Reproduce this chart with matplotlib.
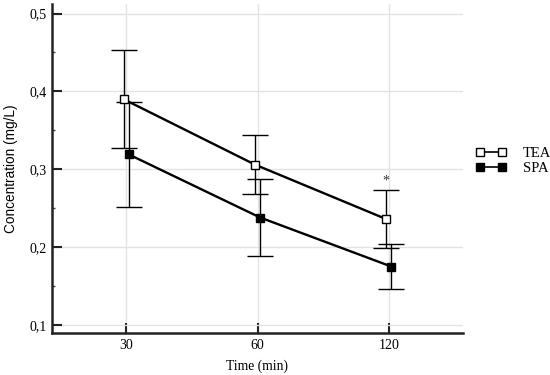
import matplotlib
matplotlib.use("Agg")
import matplotlib.pyplot as plt
import numpy as np
from matplotlib.ticker import MultipleLocator
from matplotlib.lines import Line2D

times = ["30", "60", "120"]
tea_mean = [0.390, 0.306, 0.236]
tea_err = [0.063, 0.038, 0.037]
spa_mean = [0.319, 0.238, 0.175]
spa_err = [0.067, 0.049, 0.029]
yticks = [0.1, 0.2, 0.3, 0.4, 0.5]
ytick_labels = ["0,1", "0,2", "0,3", "0,4", "0,5"]
series_names = ["TEA", "SPA"]

serif = "Liberation Serif"

fig = plt.figure(figsize=(5.5, 3.75), dpi=100)
ax = fig.add_axes([52/550, 1-333/375, (463-52)/550, (333-4)/375])

x = np.arange(len(times))
off = 0.02

common = dict(color="black", lw=1.7, marker="s", markersize=5.5,
              markeredgecolor="black", markeredgewidth=1.0, ecolor="black",
              elinewidth=1.0, capsize=9.5, capthick=1.0, zorder=3)
ax.errorbar(x - off, tea_mean, yerr=tea_err, markerfacecolor="white", **common)
ax.errorbar(x + off, spa_mean, yerr=spa_err, markerfacecolor="black", **common)

ax.text(x[2] - off, tea_mean[2] + tea_err[2] + 0.003, "*", ha="center",
        va="bottom", fontsize=10, family=serif, color="#333333")

ax.set_xlim(-0.565, 2.565)
ax.set_ylim(0.0897, 0.5122)
ax.set_xticks(x)
ax.set_xticklabels(times, family=serif, fontsize=10)
ax.set_yticks(yticks)
ax.set_yticklabels(ytick_labels, family=serif, fontsize=10)
ax.yaxis.set_minor_locator(MultipleLocator(0.05))
ax.tick_params(axis="both", which="major", direction="in", length=7,
               width=1.5, pad=4, color="#222222")
ax.tick_params(axis="y", which="minor", direction="in", length=2.5,
               width=1, color="#444444")
ax.tick_params(axis="x", which="minor", bottom=False)

ax.grid(True, which="major", color="#e3e3e3", lw=1.0, zorder=0)
ax.set_axisbelow(True)
for s in ["top", "right"]:
    ax.spines[s].set_visible(False)
for s in ["left", "bottom"]:
    ax.spines[s].set_linewidth(1.8)
    ax.spines[s].set_color("#222222")

ax.set_xlabel("Time (min)", family=serif, fontsize=9.8, labelpad=6)
ax.set_ylabel("Concentration (mg/L)", family="Liberation Sans", fontsize=9.8,
              labelpad=8)

handles = [
    Line2D([], [], color="black", lw=1.2, marker="s", markersize=5.5,
           markerfacecolor="white", markeredgecolor="black", markeredgewidth=1.0),
    Line2D([], [], color="black", lw=1.2, marker="s", markersize=5.5,
           markerfacecolor="black", markeredgecolor="black", markeredgewidth=1.0),
]
fig.legend(handles, series_names, loc="center left",
           bbox_to_anchor=(476/550, 1-161/375), frameon=False,
           numpoints=2, handlelength=2.1, handletextpad=1.1, borderpad=0,
           borderaxespad=0, labelspacing=0.15,
           prop={"family": serif, "size": 10.5})

fig.savefig("out.png", dpi=100)
